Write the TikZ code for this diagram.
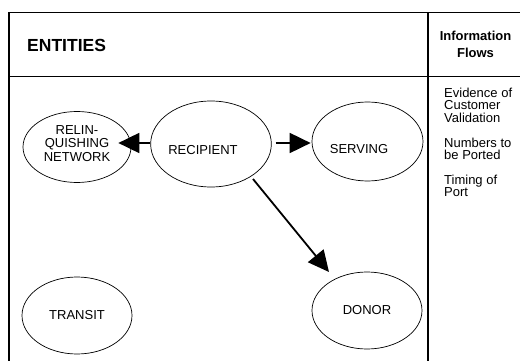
\documentclass[tikz,border=0pt]{standalone}
\usepackage{fontspec}
\setmainfont{Liberation Sans}
\usetikzlibrary{shapes.geometric,arrows.meta}
\begin{document}
\begin{tikzpicture}[x=1pt,y=-1pt,
  frame/.style={line width=1.4pt},
  ent/.style={draw, ellipse, line width=0.7pt, inner sep=0pt, font=\fontsize{13}{15}\selectfont},
  arr/.style={line width=1.8pt, -{Triangle[length=21pt,width=20pt]}},
  flow/.style={font=\fontsize{13}{12.35}\selectfont, align=left, anchor=north west, inner sep=0pt}]
\useasboundingbox (0,0) rectangle (520,361);
\fill[white] (0,0) rectangle (520,361);
% frame
\draw[frame] (9,361) -- (9,12.5) -- (520,12.5);
\draw[frame] (9,76.5) -- (520,76.5);
\draw[frame] (428,12.5) -- (428,361);
% header texts
\node[anchor=base west, inner sep=0pt, font=\fontsize{17.5}{20}\selectfont\bfseries] (hdr) at (27,52) {ENTITIES};
\node[anchor=north, inner sep=0pt, align=center, font=\fontsize{13}{17}\selectfont\bfseries] (flows) at (475.5,30.5) {Information\\Flows};
% flow list
\node[flow] (f1) at (444,88) {Evidence of\\Customer\\Validation};
\node[flow] (f2) at (444,137.4) {Numbers to\\be Ported};
\node[flow] (f3) at (444,174.5) {Timing of\\Port};
% entities
\node[ent, minimum width=108pt, minimum height=71pt, align=center, font=\fontsize{13}{13.8}\selectfont] (relin) at (77,147) {RELIN-\\QUISHING\\NETWORK\rule[-7pt]{0pt}{7pt}};
\node[ent, minimum width=110pt, minimum height=86pt, text height=21.4pt, text depth=0pt] (recipient) at (211,144) {RECIPIENT\hspace*{16pt}};
\node[ent, minimum width=111pt, minimum height=79pt, text height=23.4pt, text depth=0pt] (serving) at (367.5,141.5) {SERVING\hspace*{17pt}};
\node[ent, minimum width=110pt, minimum height=77pt] (transit) at (77,315.5) {TRANSIT};
\node[ent, minimum width=110pt, minimum height=77pt] (donor) at (367,310.5) {DONOR};
% connectors
\draw[arr] ([yshift=1pt]recipient.west) -- ([xshift=-13pt,yshift=4pt]relin.east);
\draw[arr] ([xshift=4pt,yshift=1pt]recipient.east) -- ([xshift=-1pt,yshift=-1.5pt]serving.west);
\draw[arr] ([xshift=42pt,yshift=-35pt]recipient.center) -- ([xshift=-38pt,yshift=38.5pt]donor.center);
\end{tikzpicture}
\end{document}
